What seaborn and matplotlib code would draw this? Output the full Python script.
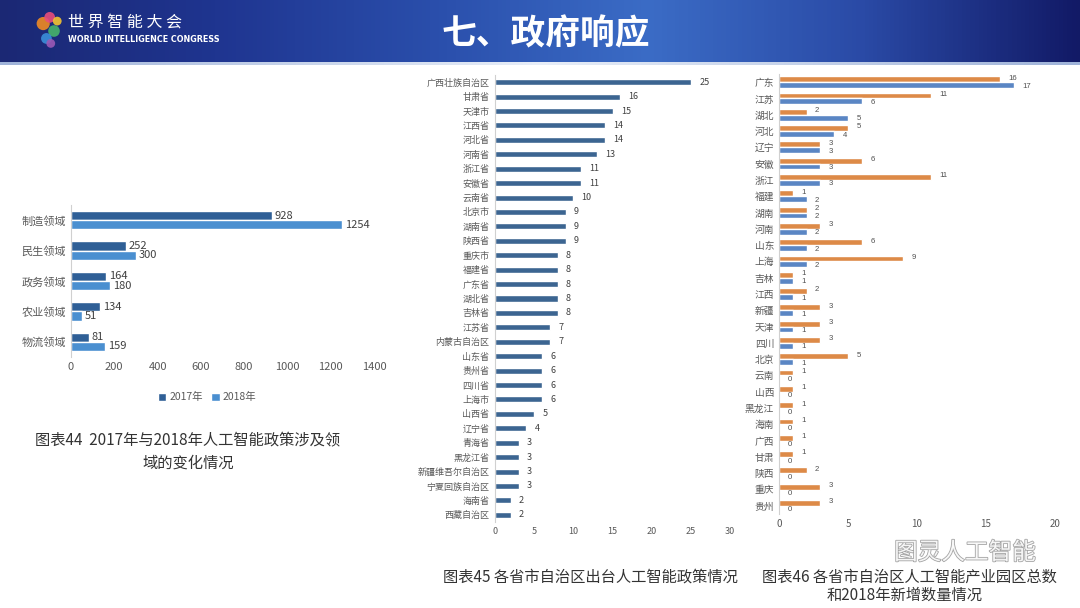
import numpy as np
import pandas as pd
import matplotlib
matplotlib.use('Agg')
import matplotlib.pyplot as plt
from matplotlib.colors import LinearSegmentedColormap
from matplotlib import patheffects as pe
import seaborn as sns


# ── data ─────────────────────────────────────────────────────────────────────

domains = ['制造领域', '民生领域', '政务领域', '农业领域', '物流领域']
domain_2017 = [928, 252, 164, 134, 81]
domain_2018 = [1254, 300, 180, 51, 159]

provinces = ['广西壮族自治区', '甘肃省', '天津市', '江西省', '河北省', '河南省',
             '浙江省', '安徽省', '云南省', '北京市', '湖南省', '陕西省',
             '重庆市', '福建省', '广东省', '湖北省', '吉林省', '江苏省',
             '内蒙古自治区', '山东省', '贵州省', '四川省', '上海市', '山西省',
             '辽宁省', '青海省', '黑龙江省', '新疆维吾尔自治区', '宁夏回族自治区',
             '海南省', '西藏自治区']
policy_counts = [25, 16, 15, 14, 14, 13, 11, 11, 10, 9, 9, 9, 8, 8, 8, 8, 8,
                 7, 7, 6, 6, 6, 6, 5, 4, 3, 3, 3, 3, 2, 2]

park_regions = ['广东', '江苏', '湖北', '河北', '辽宁', '安徽', '浙江', '福建',
                '湖南', '河南', '山东', '上海', '吉林', '江西', '新疆', '天津',
                '四川', '北京', '云南', '山西', '黑龙江', '海南', '广西', '甘肃',
                '陕西', '重庆', '贵州']
park_new_2018 = [16, 11, 2, 5, 3, 6, 11, 1, 2, 3, 6, 9, 1, 2, 3, 3, 3, 5,
                 1, 1, 1, 1, 1, 1, 2, 3, 3]
park_total = [17, 6, 5, 4, 3, 3, 3, 2, 2, 2, 2, 2, 1, 1, 1, 1, 1, 1,
              0, 0, 0, 0, 0, 0, 0, 0, 0]

# ── style ────────────────────────────────────────────────────────────────────

sns.set_style('white')
plt.rcParams['font.family'] = ['Noto Sans CJK SC', 'DejaVu Sans']
TXT = '#595959'
SPINE = '#d0d0d0'

fig = plt.figure(figsize=(10.8, 6.08), dpi=100)
fig.patch.set_facecolor('white')


def px(x, y, w, h):
    """pixel box (top-left origin) -> figure fraction rect"""
    return [x / 1080, 1 - (y + h) / 608, w / 1080, h / 608]


def tidy(ax):
    for s in ['top', 'right', 'bottom']:
        ax.spines[s].set_visible(False)
    ax.spines['left'].set_color(SPINE)
    ax.tick_params(length=0, colors=TXT)
    ax.set_xlabel('')
    ax.set_ylabel('')
    ax.set_facecolor('none')


# ── header band ──────────────────────────────────────────────────────────────

hdr = fig.add_axes(px(0, 0, 1080, 62))
cmap = LinearSegmentedColormap.from_list(
    'hdr', ['#1b2874', '#1f3590', '#2a4eab', '#3b6cc6', '#2a4aa6', '#121a66'])
hdr.imshow(np.linspace(0, 1, 256)[None, :], aspect='auto', cmap=cmap,
           extent=[0, 1, 0, 1])
hdr.set_axis_off()
hdr.text(0.505, 0.45, '七、政府响应', color='white', fontsize=25,
         fontweight='bold', ha='center', va='center')
hdr.text(0.063, 0.64, '世 界 智 能 大 会', color='white', fontsize=11.5,
         ha='left', va='center')
hdr.text(0.063, 0.37, 'WORLD INTELLIGENCE CONGRESS', color='white',
         fontsize=5.8, ha='left', va='center', fontweight='bold',
         family=['Liberation Sans Narrow', 'DejaVu Sans'])
# small colourful logo blob
hdr.scatter([0.040, 0.046, 0.050, 0.043, 0.053, 0.047],
            [0.62, 0.72, 0.50, 0.38, 0.66, 0.30],
            s=[90, 60, 70, 60, 40, 40],
            c=['#f08a24', '#e84d7a', '#47b36b', '#3b8fd9', '#f4c430', '#9b59b6'],
            alpha=0.9, linewidths=0)
hdr.set_xlim(0, 1)
hdr.set_ylim(0, 1)

strip = fig.add_axes(px(0, 62, 1080, 3))
strip.imshow(np.linspace(0, 1, 256)[None, :], aspect='auto',
             cmap=LinearSegmentedColormap.from_list('s', ['#9fb3d9', '#e8eef8', '#9fb3d9']))
strip.set_axis_off()

# ── chart 44: policy domains 2017 vs 2018 ────────────────────────────────────

df44 = pd.DataFrame({
    'domain': domains * 2,
    'value': domain_2017 + domain_2018,
    'year': ['2017年'] * len(domains) + ['2018年'] * len(domains),
})
ax1 = fig.add_axes(px(71, 205, 303, 152))
sns.barplot(data=df44, x='value', y='domain', hue='year', orient='h',
            palette=['#2f5f96', '#4a8fd0'], saturation=1, width=0.6, ax=ax1)
tidy(ax1)
ax1.set_xlim(0, 1400)
ax1.set_xticks(range(0, 1401, 200))
ax1.tick_params(axis='both', labelsize=8)
for c in ax1.containers:
    ax1.bar_label(c, padding=2, fontsize=8, color='#404040')
ax1.legend(loc='upper center', bbox_to_anchor=(0.45, -0.17), ncol=2,
           frameon=False, fontsize=7.5, handlelength=0.8, handleheight=0.8,
           handletextpad=0.3, columnspacing=0.8, labelcolor=TXT)

fig.text(188 / 1080, 1 - 452 / 608,
         '图表44  2017年与2018年人工智能政策涉及领\n域的变化情况',
         ha='center', va='center', fontsize=11, color='#333333',
         linespacing=1.35, multialignment='center')

# ── chart 45: policies per province ──────────────────────────────────────────

df45 = pd.DataFrame({'province': provinces, 'count': policy_counts})
ax2 = fig.add_axes(px(495, 75, 235, 447))
sns.barplot(data=df45, x='count', y='province', orient='h', color='#3c6591',
            saturation=1, width=0.42, ax=ax2)
tidy(ax2)
ax2.set_xlim(0, 30)
ax2.set_xticks(range(0, 31, 5))
ax2.tick_params(axis='both', labelsize=6.5)
ax2.tick_params(axis='y', pad=4)
for c in ax2.containers:
    ax2.bar_label(c, padding=6, fontsize=6.5, color='#404040')

fig.text(443 / 1080, 1 - 577 / 608, '图表45 各省市自治区出台人工智能政策情况',
         ha='left', va='center', fontsize=11, color='#333333')

# ── chart 46: AI industrial parks ────────────────────────────────────────────

df46 = pd.DataFrame({
    'region': park_regions * 2,
    'value': park_new_2018 + park_total,
    'kind': ['2018年新增'] * len(park_regions) + ['园区总数'] * len(park_regions),
})
ax3 = fig.add_axes(px(779, 74, 276, 440))
sns.barplot(data=df46, x='value', y='region', hue='kind', orient='h',
            palette=['#dd8a47', '#5a86c4'], saturation=1, width=0.72,
            legend=False, ax=ax3)
tidy(ax3)
ax3.set_xlim(0, 20)
ax3.set_xticks(range(0, 21, 5))
ax3.tick_params(axis='both', labelsize=7)
# spread the four labels of each row evenly (orange up, blue down a hair)
for c, dy in zip(ax3.containers, [0.8, -0.8]):
    for t in ax3.bar_label(c, padding=6, fontsize=5.6, color='#505050',
                           family=['Liberation Sans', 'DejaVu Sans']):
        t.xyann = (6, dy)

fig.text(762 / 1080, 1 - 577 / 608, '图表46 各省市自治区人工智能产业园区总数',
         ha='left', va='center', fontsize=11, color='#333333')
fig.text(905 / 1080, 1 - 595 / 608, '和2018年新增数量情况',
         ha='center', va='center', fontsize=11, color='#333333')

# watermark
fig.text(965 / 1080, 1 - 553 / 608, '图灵人工智能', ha='center', va='center',
         fontsize=17, color='white', alpha=0.9,
         path_effects=[pe.withStroke(linewidth=1.2, foreground='#9a9a9a')])

fig.savefig('out.png', dpi=100)
